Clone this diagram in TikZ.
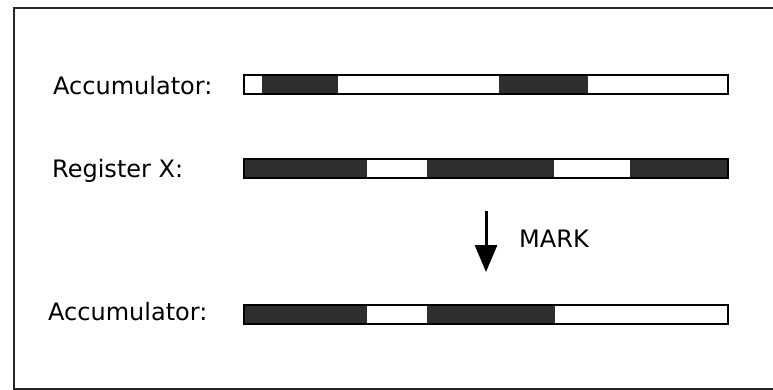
\documentclass[tikz,border=0pt]{standalone}
\usepackage{fontspec}
\usepackage{tikz}
\usetikzlibrary{positioning,arrows.meta}
\newfontfamily\geneva{DejaVu Sans}
\definecolor{bitDark}{HTML}{2E2E2E}
\tikzset{
  lbl/.style={font=\geneva\fontsize{24}{27}\selectfont,anchor=base west,inner sep=0pt},
  regbar/.style={draw=black,line width=2pt,inner sep=0pt,minimum height=19pt,
    minimum width=484pt,anchor=west},
  frame/.style={draw=black!85,line width=2pt},
  markarrow/.style={-{Triangle[length=27pt,width=22pt]},line width=3pt}
}
\begin{document}
\begin{tikzpicture}[x=1pt,y=-1pt]
  \useasboundingbox (0,0) rectangle (773,390);
  \draw[frame] (773,8) -- (14,8) -- (14,389) -- (773,389);
  % labels
  \node[lbl] (accin) at (53,95) {Accumulator:};
  \node[lbl] (regx) at (52,178) {Register X:};
  \node[lbl] (accout) at (48,320) {Accumulator:};
  % bit fields
  \foreach \a/\b/\c in {243/262/white,262/338/bitDark,338/499/white,
      499/588/bitDark,588/727/white}
    \fill[\c] (\a,75.5) rectangle (\b,94.5);
  \foreach \a/\b/\c in {243/367/bitDark,367/427/white,427/554/bitDark,
      554/630/white,630/727/bitDark}
    \fill[\c] (\a,159.5) rectangle (\b,178.5);
  \foreach \a/\b/\c in {243/367/bitDark,367/427/white,427/555/bitDark,
      555/727/white}
    \fill[\c] (\a,304.5) rectangle (\b,323.5);
  \node[regbar] (accinbar) at (243,85) {};
  \node[regbar] (regxbar) at (243,169) {};
  \node[regbar] (accoutbar) at (243,314) {};
  % operation
  \coordinate (optop) at (486,211);
  \coordinate (opbot) at (486,272);
  \draw[markarrow] (optop) -- (opbot);
  \node[lbl] (oplbl) at (519,247) {MARK};
\end{tikzpicture}
\end{document}
